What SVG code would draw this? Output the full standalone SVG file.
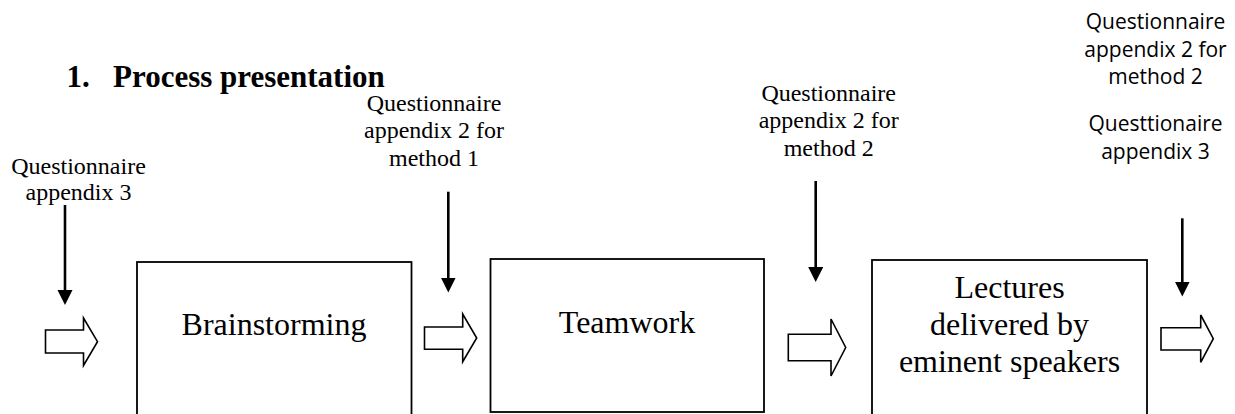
<svg xmlns="http://www.w3.org/2000/svg" width="1235" height="414" viewBox="0 0 1235 414">
  <style>
    .serif { font-family: "Liberation Serif", "Times New Roman", serif; fill: #000; }
    .sans { font-family: "Open Sans", "Liberation Sans", sans-serif; fill: #000; }
    .title { font-size: 31px; font-weight: bold; }
    .note { font-size: 24px; text-anchor: middle; }
    .note-sans { font-size: 21px; text-anchor: middle; }
    .label { font-size: 32px; text-anchor: middle; }
    .box { fill: #fff; stroke: #000; stroke-width: 1.8; }
    .flow { fill: #fff; stroke: #000; stroke-width: 1.6; stroke-linejoin: miter; }
    .drop { stroke: #000; stroke-width: 2.6; fill: none; }
  </style>
  <defs>
    <marker id="head" markerUnits="userSpaceOnUse" markerWidth="16" markerHeight="16" viewBox="0 0 16 16" refX="8" refY="7.5" orient="auto">
      <path d="M0,0 L15,7.5 L0,15 z" fill="#000"/>
    </marker>
  </defs>

  <rect width="1235" height="414" fill="#fff"/>

  <!-- heading -->
  <text class="serif title" y="86.5"><tspan x="66.5">1.</tspan><tspan x="113">Process presentation</tspan></text>

  <!-- questionnaire notes above the flow -->
  <g id="note-start">
    <text class="serif note" x="78.5" y="174">Questionnaire</text>
    <text class="serif note" x="78.5" y="200">appendix 3</text>
  </g>
  <g id="note-method1">
    <text class="serif note" x="434" y="110.7">Questionnaire</text>
    <text class="serif note" x="434" y="138.3">appendix 2 for</text>
    <text class="serif note" x="434" y="166">method 1</text>
  </g>
  <g id="note-method2">
    <text class="serif note" x="828.7" y="100.8">Questionnaire</text>
    <text class="serif note" x="828.7" y="128.4">appendix 2 for</text>
    <text class="serif note" x="828.7" y="156">method 2</text>
  </g>
  <g id="note-end">
    <text class="sans note-sans" x="1155.5" y="29">Questionnaire</text>
    <text class="sans note-sans" x="1155.5" y="56.5">appendix 2 for</text>
    <text class="sans note-sans" x="1155.5" y="84">method 2</text>
    <text class="sans note-sans" x="1155.5" y="131">Questtionaire</text>
    <text class="sans note-sans" x="1155.5" y="158.5">appendix 3</text>
  </g>

  <!-- process steps -->
  <g id="brainstorming">
    <rect class="box" x="137" y="262" width="274.5" height="170"/>
    <text class="serif label" x="274" y="335">Brainstorming</text>
  </g>
  <g id="teamwork">
    <rect class="box" x="490.5" y="259" width="273.5" height="153"/>
    <text class="serif label" x="627" y="332.7">Teamwork</text>
  </g>
  <g id="lectures">
    <rect class="box" x="872" y="260" width="275" height="170"/>
    <text class="serif label" x="1009.5" y="298.3">Lectures</text>
    <text class="serif label" x="1009.5" y="335">delivered by</text>
    <text class="serif label" x="1009.5" y="371.7">eminent speakers</text>
  </g>

  <!-- connectors: block flow arrows and questionnaire drop arrows -->
  <g id="connectors">
    <polygon class="flow" points="45.5,330 83.5,330 83.5,318 97.5,341.7 83.5,365.5 83.5,353 45.5,353"/>
    <polygon class="flow" points="424.5,327 462.7,327 462.7,314 476.7,338 462.7,361.7 462.7,349.3 424.5,349.3"/>
    <polygon class="flow" points="788.3,334.3 831,334.3 831,319 845.7,347.5 831,376 831,360.7 788.3,360.7"/>
    <polygon class="flow" points="1161,327.7 1200.7,327.7 1200.7,315 1213.3,338.7 1200.7,362.3 1200.7,350 1161,350"/>

    <line class="drop" x1="65" y1="205" x2="65" y2="298" marker-end="url(#head)"/>
    <line class="drop" x1="448.3" y1="191.7" x2="448.3" y2="285.5" marker-end="url(#head)"/>
    <line class="drop" x1="815.7" y1="181" x2="815.7" y2="275" marker-end="url(#head)"/>
    <line class="drop" x1="1182.3" y1="218.3" x2="1182.3" y2="289.5" marker-end="url(#head)"/>
  </g>
</svg>
